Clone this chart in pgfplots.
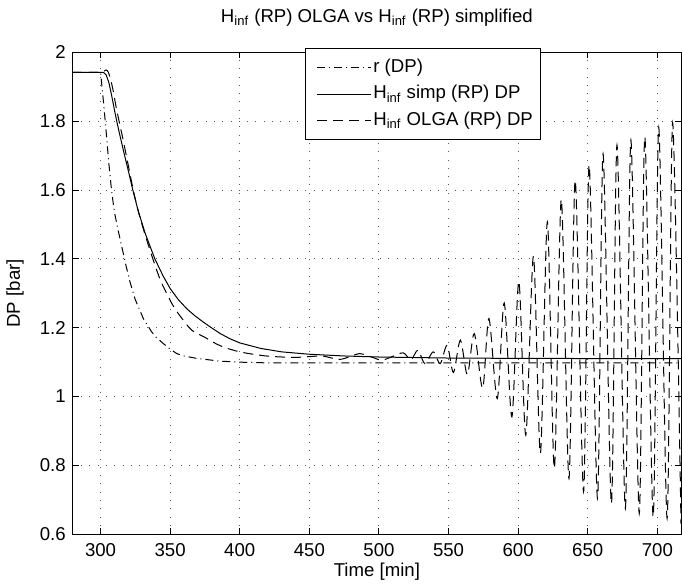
\documentclass[border=0pt]{standalone}
\usepackage{fontspec}
\setmainfont{Liberation Sans}
\usepackage{pgfplots}
\pgfplotsset{compat=1.18}

\newcommand{\matfont}{\fontsize{9.3}{11}\selectfont}

\begin{document}
\begin{tikzpicture}
\begin{axis}[
    name=ax,
    scale only axis,
    width=304pt, height=240.8pt,
    xmin=280, xmax=717,
    ymin=0.6, ymax=2,
    xtick={300,350,400,450,500,550,600,650,700},
    ytick={0.6,0.8,1,1.2,1.4,1.6,1.8,2},
    yticklabels={0.6,0.8,1,1.2,1.4,1.6,1.8,2},
    /pgf/number format/assume math mode=true,
    font=\matfont,
    tick label style={font=\matfont},
    xticklabel style={yshift=-1pt},
    axis line style={line width=0.5pt},
    tick align=inside,
    major tick length=3pt,
    tick style={line width=0.5pt, black},
    grid=major,
    grid style={line width=0.5pt, black!65, dash pattern=on 0.5pt off 3.65pt},
    title={H\textsubscript{inf} (RP) OLGA vs H\textsubscript{inf} (RP) simplified},
    title style={at={(axis description cs:0.5,1)}, anchor=base, yshift=9pt, font=\matfont},
    xlabel={Time [min]},
    xlabel style={at={(axis description cs:0.5,0)}, anchor=base, yshift=-21pt, font=\matfont},
    ylabel={DP [bar]},
    ylabel style={at={(axis description cs:-0.0867,0.5)}, anchor=base, font=\matfont},
    legend cell align=left,
    legend image code/.code={\path (0pt,0pt); \draw[#1] (2.5pt,0pt) -- (29.5pt,0pt);},
    legend style={at={(axis description cs:0.3819,1.0085)}, anchor=north west,
        draw=black, line width=0.5pt, fill=white,
        inner xsep=3pt, inner ysep=2.8pt, row sep=0pt,
        /tikz/every even column/.append style={column sep=3.5pt},
        nodes={inner sep=0.9pt, text height=8pt, text depth=3.5pt, font=\matfont}},
]

% reference r (DP)
\addplot[black, line width=0.5pt, dash pattern=on 4pt off 2pt on 0.5pt off 2pt] coordinates {
    (280,1.942) (298,1.942) (300,1.942) (302,1.86) (304,1.77) (306,1.675)
    (308,1.595) (310,1.535) (312.5,1.485) (315,1.440) (318,1.385) (321,1.335)
    (324.8,1.283) (330.7,1.227) (336.7,1.188) (340,1.172) (345.1,1.154)
    (350,1.138) (354.7,1.125) (360,1.118) (369,1.111) (385.8,1.103)
    (400,1.100) (419.4,1.098) (500,1.098) (600,1.098) (717,1.098)
};
\addlegendentry{r (DP)}

% H_inf simplified
\addplot[black, line width=0.5pt] coordinates {
    (280,1.942) (302,1.942) (304,1.935) (306,1.912) (308,1.874) (310,1.832)
    (312,1.793) (314,1.757) (317,1.705) (320,1.655) (323,1.603) (327,1.540)
    (332,1.475) (339,1.400) (345,1.350) (350,1.314) (356,1.281) (362,1.255)
    (368,1.234) (374,1.216) (380,1.199) (386,1.183) (393,1.168) (400,1.156)
    (415,1.140) (430,1.130) (450,1.123) (475,1.118) (500,1.115) (550,1.112)
    (600,1.111) (717,1.110)
};
\addlegendentry{H\textsubscript{inf} simp (RP) DP}

% H_inf OLGA
\addplot[black, line width=0.5pt, dash pattern=on 5pt off 3pt, smooth, tension=0.5] coordinates {
    (280,1.942) (300,1.942) (302,1.944) (304,1.949) (305.5,1.943) (307,1.925)
    (309,1.890) (311,1.845) (313.3,1.800) (316,1.750) (319,1.690) (323.5,1.600)
    (327,1.540) (332,1.470) (338,1.395) (343,1.338) (348.7,1.290) (353,1.258)
    (358.3,1.228) (365.5,1.193) (375,1.172) (385.8,1.148) (400,1.130)
    (419,1.118) (440,1.114) (458,1.118) (465,1.113) (472,1.108) (480,1.117)
    (486,1.125) (494,1.116) (502,1.106) (510,1.117) (517.5,1.127) (523,1.107)
    (528,1.135) (533,1.096) (539,1.130) (544,1.096) (549,1.149) (553.5,1.070)
    (558.5,1.164) (563.5,1.064) (568.5,1.183) (574.5,1.024) (579,1.227)
    (585,0.994) (590,1.272) (595.5,0.941) (600.5,1.335) (605.5,0.888)
    (611,1.408) (616,0.835) (621,1.508) (626,0.791) (631,1.573) (636.5,0.762)
    (641,1.629) (647,0.723) (651,1.673) (657,0.704) (661,1.705) (667,0.689)
    (671,1.731) (677,0.675) (681,1.745) (687,0.660) (691,1.755) (697,0.650)
    (701,1.782) (707,0.646) (711,1.796) (717,0.630)
};
\addlegendentry{H\textsubscript{inf} OLGA (RP) DP}

\end{axis}
\pgfresetboundingbox
\path ([xshift=-36.35pt,yshift=-25pt]ax.south west) rectangle ([xshift=0.5pt,yshift=26.2pt]ax.north east);
\end{tikzpicture}
\end{document}
